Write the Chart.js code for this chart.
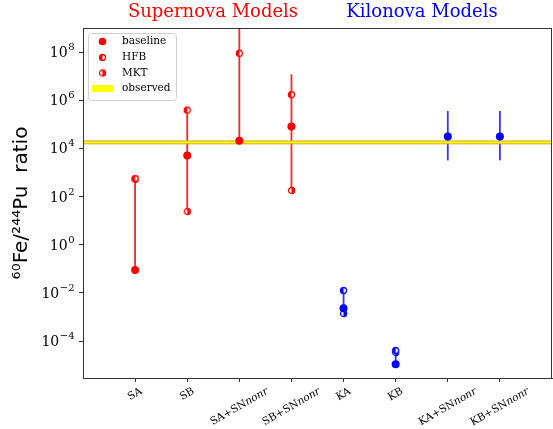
<!DOCTYPE html>
<html>
<head>
<meta charset="utf-8">
<script src="https://cdn.jsdelivr.net/npm/chart.js@4.4.1/dist/chart.umd.min.js"></script>
<style>
  html, body { margin: 0; padding: 0; background: #fff; }
  #wrap { position: relative; width: 553px; height: 429px; }
</style>
</head>
<body>
<div id="wrap"><canvas id="ratioChart" width="553" height="429"></canvas></div>
<script>
// model names (x axis)
const categories = ['SA', 'SB', 'SA+SNnonr', 'SB+SNnonr', 'KA', 'KB', 'KA+SNnonr', 'KB+SNnonr'];
// 60Fe/244Pu ratio per model
const baseline = [0.09, 5.1e3, 2.1e4, 8.1e4, 2.3e-3, 1.1e-5, 3.1e4, 3.1e4];
const hfb      = [5.6e2, 3.9e5, 8.9e7, 1.7e6, 1.26e-2, 4.1e-5, null, null];
const mkt      = [5.2e2, 24, 5e9, 1.8e2, 1.4e-3, 3.4e-5, null, null];
// vertical range lines
const rangeLow  = [0.09, 24, 2.1e4, 1.8e2, 1.4e-3, 1.1e-5, 3.2e3, 3.2e3];
const rangeHigh = [5.6e2, 3.9e5, 1e10, 1.2e7, 1.26e-2, 4.1e-5, 3.6e5, 3.6e5];
// observed band (low, high)
const observed = [1.55e4, 2.05e4];
const yTicks = [1e-4, 1e-2, 1, 1e2, 1e4, 1e6, 1e8];
const yExponents = ['−4', '−2', '0', '2', '4', '6', '8'];

const RED = '#ff0000';
const BLUE = '#0000ff';
const colorFor = i => (i < 4 ? RED : BLUE);
const serif = '"DejaVu Serif", serif';

// half filled circle marker
function halfMarker(color, side, r) {
    const c = document.createElement('canvas');
    const s = Math.ceil(r * 2 + 3);
    c.width = c.height = s;
    const g = c.getContext('2d');
    const m = s / 2;
    g.fillStyle = '#fff';
    g.beginPath(); g.arc(m, m, r, 0, 2 * Math.PI); g.fill();
    g.fillStyle = color;
    g.beginPath();
    if (side === 'left') g.arc(m, m, r, Math.PI / 2, 3 * Math.PI / 2);
    else g.arc(m, m, r, -Math.PI / 2, Math.PI / 2);
    g.closePath(); g.fill();
    g.strokeStyle = color; g.lineWidth = 1.3;
    g.beginPath(); g.arc(m, m, r - 0.6, 0, 2 * Math.PI); g.stroke();
    return c;
}
const hfbIcons = { red: halfMarker(RED, 'left', 3.6), blue: halfMarker(BLUE, 'left', 3.6) };
const mktIcons = { red: halfMarker(RED, 'right', 3.6), blue: halfMarker(BLUE, 'right', 3.6) };

function toPoints(arr) {
    return arr.map((v, i) => ({ x: i, y: v }));
}

const datasets = [];
datasets.push({
    label: 'baseline', data: toPoints(baseline), showLine: false,
    pointRadius: 4, pointHoverRadius: 4, pointBorderWidth: 0,
    pointBackgroundColor: categories.map((c, i) => colorFor(i))
});
datasets.push({
    label: 'HFB', data: toPoints(hfb), showLine: false,
    pointStyle: categories.map((c, i) => i < 4 ? hfbIcons.red : hfbIcons.blue)
});
datasets.push({
    label: 'MKT', data: toPoints(mkt), showLine: false,
    pointStyle: categories.map((c, i) => i < 4 ? mktIcons.red : mktIcons.blue)
});
// observed band
datasets.push({
    label: 'obsLow', data: [{ x: -1, y: observed[0] }, { x: 8, y: observed[0] }],
    borderColor: '#d9a520', borderWidth: 1, pointRadius: 0, fill: false
});
datasets.push({
    label: 'observed', data: [{ x: -1, y: observed[1] }, { x: 8, y: observed[1] }],
    borderColor: '#d9a520', borderWidth: 1, pointRadius: 0,
    fill: '-1', backgroundColor: '#ffff00'
});
// range lines
categories.forEach((c, i) => {
    datasets.push({
        label: 'range ' + c,
        data: [{ x: i, y: rangeLow[i] }, { x: i, y: rangeHigh[i] }],
        borderColor: i < 4 ? 'rgba(255,0,0,0.85)' : 'rgba(0,0,255,0.8)',
        borderWidth: 1.8, pointRadius: 0
    });
});

const decorPlugin = {
    id: 'decor',
    afterDraw(chart) {
        const ctx = chart.ctx;
        const a = chart.chartArea;
        const xs = chart.scales.x;
        const ys = chart.scales.y;
        ctx.save();
        // box
        ctx.strokeStyle = '#333';
        ctx.lineWidth = 1;
        ctx.strokeRect(a.left + 0.5, a.top + 0.5, a.right - a.left - 1, a.bottom - a.top);

        // titles
        ctx.font = '18px ' + serif;
        ctx.textAlign = 'center';
        ctx.textBaseline = 'alphabetic';
        ctx.fillStyle = RED;
        ctx.fillText('Supernova Models', 213, 17);
        ctx.fillStyle = BLUE;
        ctx.fillText('Kilonova Models', 422, 17);

        // y tick labels 10^n
        ctx.fillStyle = '#000';
        ctx.textAlign = 'left';
        ctx.textBaseline = 'alphabetic';
        yTicks.forEach((v, k) => {
            const py = ys.getPixelForValue(v);
            ctx.font = '10px ' + serif;
            const ew = ctx.measureText(yExponents[k]).width;
            ctx.font = '14px ' + serif;
            const bw = ctx.measureText('10').width;
            const x0 = a.left - 9 - ew - bw;
            ctx.fillText('10', x0, py + 5);
            ctx.font = '10px ' + serif;
            ctx.fillText(yExponents[k], x0 + bw + 0.5, py - 2);
        });

        // x labels, rotated 30 deg, centered on tick
        ctx.textAlign = 'left';
        ctx.textBaseline = 'middle';
        const fs = 10.5;
        categories.forEach((lab, i) => {
            const px = xs.getPixelForValue(i);
            const m = lab.match(/^(.*SN)(nonr)$/);
            const parts = m ? [[m[1], ''], [m[2], 'italic ']] : [[lab, '']];
            let w = 0;
            const widths = parts.map(p => {
                ctx.font = p[1] + fs + 'px ' + serif;
                const ww = ctx.measureText(p[0]).width;
                w += ww;
                return ww;
            });
            const bh = w * 0.5 + fs * 0.866;
            const cy = a.bottom + 8 + bh / 2;
            ctx.save();
            ctx.translate(px, cy);
            ctx.rotate(-Math.PI / 6);
            let x0 = -w / 2;
            parts.forEach((p, k) => {
                ctx.font = p[1] + fs + 'px ' + serif;
                ctx.fillText(p[0], x0, 0);
                x0 += widths[k];
            });
            ctx.restore();
        });

        // legend
        const lx = 88, ly = 33, lw = 88, lh = 67;
        ctx.fillStyle = 'rgba(255,255,255,0.8)';
        ctx.strokeStyle = '#d0d0d0';
        ctx.beginPath();
        ctx.roundRect(lx + 0.5, ly + 0.5, lw, lh, 3);
        ctx.fill(); ctx.stroke();
        const rows = [41.5, 57.5, 73, 88.5];
        ctx.fillStyle = RED;
        ctx.beginPath(); ctx.arc(102.5, rows[0], 3.8, 0, 2 * Math.PI); ctx.fill();
        ctx.drawImage(hfbIcons.red, 102.5 - hfbIcons.red.width / 2, rows[1] - hfbIcons.red.height / 2);
        ctx.drawImage(mktIcons.red, 102.5 - mktIcons.red.width / 2, rows[2] - mktIcons.red.height / 2);
        ctx.fillStyle = '#ffff00';
        ctx.fillRect(92, rows[3] - 3.5, 21, 7);
        ctx.fillStyle = '#000';
        ctx.font = '10.5px ' + serif;
        ctx.textBaseline = 'middle';
        ['baseline', 'HFB', 'MKT', 'observed'].forEach((t, k) => ctx.fillText(t, 122, rows[k]));
        ctx.restore();
    }
};

const ctx = document.getElementById('ratioChart').getContext('2d');
const ratioChart = new Chart(ctx, {
    type: 'line',
    data: { datasets: datasets },
    options: {
        responsive: false,
        animation: false,
        events: [],
        layout: { autoPadding: false, padding: { top: 28, right: 1, left: 0, bottom: 0 } },
        plugins: { legend: { display: false }, tooltip: { enabled: false } },
        scales: {
            x: {
                type: 'linear', min: -1, max: 8,
                afterBuildTicks: s => { s.ticks = categories.map((c, i) => ({ value: i })); },
                afterFit: s => { s.height = 51; s.paddingLeft = 0; s.paddingRight = 0; },
                ticks: { display: false },
                grid: { drawOnChartArea: false, tickLength: 4, color: '#333' },
                border: { color: '#333' }
            },
            y: {
                type: 'logarithmic', min: Math.pow(10, -5.53), max: 1e9,
                afterBuildTicks: s => { s.ticks = yTicks.map(v => ({ value: v })); },
                afterFit: s => { s.width = 83; s.paddingTop = 0; s.paddingBottom = 0; },
                ticks: { display: false },
                grid: { drawOnChartArea: false, tickLength: 4, color: '#333' },
                border: { color: '#333' },
                title: {
                    display: true, text: '⁶⁰Fe/²⁴⁴Pu  ratio', color: '#000',
                    font: { family: '"DejaVu Sans", sans-serif', size: 20 },
                    padding: { top: 10, bottom: 0 }
                }
            }
        }
    },
    plugins: [decorPlugin]
});
</script>
</body>
</html>
